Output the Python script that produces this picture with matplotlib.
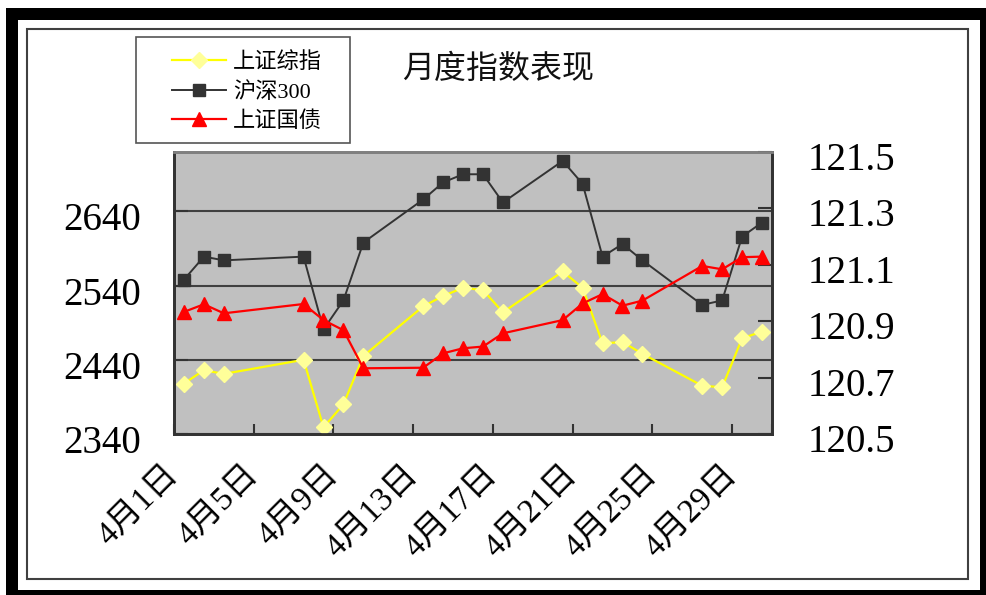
import matplotlib
matplotlib.use('Agg')
import matplotlib.pyplot as plt
from matplotlib.patches import Rectangle
import matplotlib.transforms as mtransforms

# ---------------- data ----------------
days = [1, 2, 3, 7, 8, 9, 10, 13, 14, 15, 16, 17, 20, 21, 22, 23, 24, 27, 28, 29, 30]
sh_composite = [2408, 2426, 2421, 2440, 2349, 2380, 2445, 2512, 2526, 2537, 2534,
                2504, 2559, 2537, 2462, 2464, 2448, 2405, 2403, 2469, 2478]
hs300 = [2548, 2579, 2574, 2579, 2481, 2520, 2598, 2656, 2679, 2690, 2690,
         2652, 2708, 2677, 2579, 2596, 2574, 2514, 2520, 2606, 2625]
sh_treasury = [120.933, 120.960, 120.928, 120.961, 120.904, 120.868, 120.733,
               120.735, 120.786, 120.804, 120.810, 120.857, 120.904, 120.963,
               120.996, 120.955, 120.973, 121.096, 121.084, 121.127, 121.129]
series_names = ['上证综指', '沪深300', '上证国债']
tick_days = [1, 5, 9, 13, 17, 21, 25, 29]
tick_labels = ['4月1日', '4月5日', '4月9日', '4月13日', '4月17日', '4月21日', '4月25日', '4月29日']
left_ticks = [2340, 2440, 2540, 2640]
right_ticks = [120.5, 120.7, 120.9, 121.1, 121.3, 121.5]
title = '月度指数表现'

# ---------------- layout ----------------
W, H = 986, 595
fig = plt.figure(figsize=(W / 100, H / 100), dpi=100)
fig.patch.set_facecolor('white')

def fx(x):
    return x / W

def fy(y):
    return 1 - y / H

MIXED = ['Liberation Serif', 'Noto Sans CJK SC']
CJK = ['Noto Sans CJK SC', 'DejaVu Sans']

L, R, T, B = 174, 772, 152, 434
ax = fig.add_axes([fx(L), fy(B), fx(R) - fx(L), fy(T) - fy(B)])
ax.set_facecolor('#C0C0C0')

# outer thick border and inner frame
fig.patches.append(Rectangle((fx(12), fy(596)), fx(986) - fx(12), fy(14) - fy(596),
                             transform=fig.transFigure, fill=False,
                             edgecolor='black', linewidth=8.64, zorder=0))
fig.patches.append(Rectangle((fx(27), fy(579)), fx(968) - fx(27), fy(29) - fy(579),
                             transform=fig.transFigure, fill=False,
                             edgecolor='#404040', linewidth=1.5, zorder=0))
# legend box
fig.patches.append(Rectangle((fx(136), fy(143)), fx(350) - fx(136), fy(37) - fy(143),
                             transform=fig.transFigure, fill=False,
                             edgecolor='#555555', linewidth=1.2, zorder=0))

# ---------------- series ----------------
l1, = ax.plot(days, sh_composite, color='#FFFF00', lw=1.6, marker='D', markersize=8,
              markerfacecolor='#FFFF99', markeredgecolor='#FFFF99', zorder=3)
l2, = ax.plot(days, hs300, color='#333333', lw=1.4, marker='s', markersize=8,
              markerfacecolor='#333333', markeredgecolor='#333333', zorder=3)

ax.set_xlim(0.5, 30.5)
ax.set_ylim(2340, 2720)
ax.set_yticks(left_ticks)
ax.set_yticklabels([str(v) for v in left_ticks])
ax.yaxis.grid(True, color='#404040', linewidth=1.5)
ax.set_axisbelow(True)

ax.set_xticks([d - 0.5 for d in tick_days] + [30.5])
ax.set_xticklabels(tick_labels + [''])

ax.tick_params(axis='y', direction='in', length=10, width=1.5, color='#333333', pad=24)
ax.tick_params(axis='x', direction='in', length=7, width=1.5, color='#333333', pad=26)

for lab in ax.get_yticklabels():
    lab.set_fontfamily(MIXED)
    lab.set_fontsize(28)
    lab.set_transform(lab.get_transform() + mtransforms.ScaledTranslation(0, -5 / 100, fig.dpi_scale_trans))
for lab in ax.get_xticklabels():
    lab.set_fontfamily(MIXED)
    lab.set_fontsize(24)
    lab.set_rotation(45)
    lab.set_ha('right')
    lab.set_va('center')
    lab.set_rotation_mode('anchor')

ax2 = ax.twinx()
l3, = ax2.plot(days, sh_treasury, color='#FF0000', lw=1.6, marker='^', markersize=10,
               markerfacecolor='#FF0000', markeredgecolor='#FF0000', zorder=4)
ax2.set_ylim(120.5, 121.5)
ax2.set_yticks(right_ticks)
ax2.set_yticklabels(['%.1f' % v for v in right_ticks])
ax2.tick_params(axis='y', direction='in', length=10, width=1.5, color='#333333', pad=26)
for lab in ax2.get_yticklabels():
    lab.set_fontfamily(MIXED)
    lab.set_fontsize(28)
    lab.set_transform(lab.get_transform() + mtransforms.ScaledTranslation(0, -4 / 100, fig.dpi_scale_trans))

for a in (ax, ax2):
    for side in ('left', 'right', 'bottom'):
        a.spines[side].set_color('#333333')
        a.spines[side].set_linewidth(2)
    a.spines['top'].set_color('#808080')
    a.spines['top'].set_linewidth(2)

# ---------------- legend & title ----------------
leg = fig.legend([l1, l2, l3], series_names, loc='center left',
                 bbox_to_anchor=(fx(172), fy(92)), frameon=False, borderpad=0,
                 borderaxespad=0, handlelength=2.45, handletextpad=0.3,
                 labelspacing=0.4, prop={'family': MIXED, 'size': 16})

fig.text(fx(498), fy(69), title, ha='center', va='center', fontsize=23,
         family=CJK, color='#111111')

fig.savefig('out.png', dpi=100)
